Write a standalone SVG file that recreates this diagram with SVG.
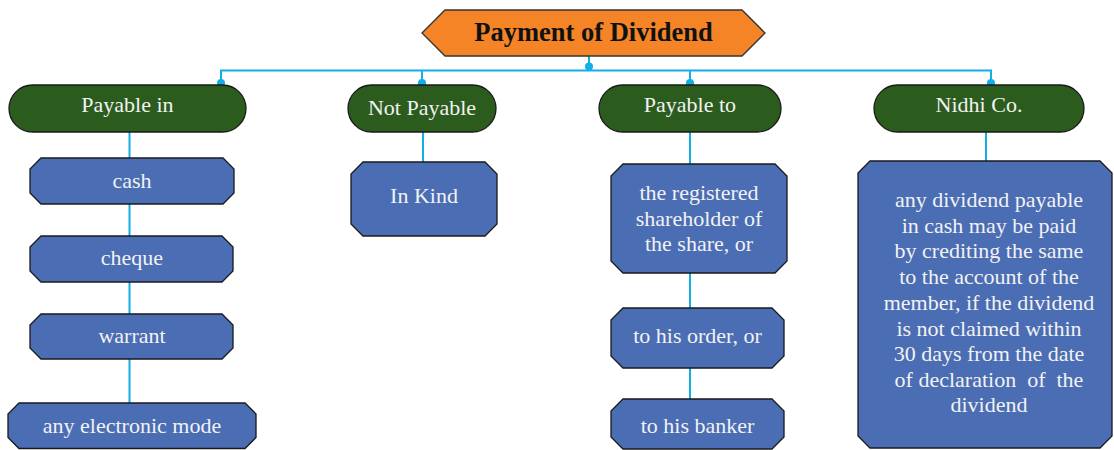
<svg xmlns="http://www.w3.org/2000/svg" width="1114" height="450" viewBox="0 0 1114 450">
<style>
.pill{fill:#2B5C1E;stroke:#1a1a1a;stroke-width:1.3}
.box{fill:#4A6DB4;stroke:#1a1a1a;stroke-width:1.3}
.t{font-family:"Liberation Serif","Times New Roman",serif;font-size:22px;fill:#F2F2F2;text-anchor:middle}
.c{stroke:#14AEE6;stroke-width:2;fill:none}
.dot{fill:#14AEE6}
</style>
<rect width="1114" height="450" fill="#FFFFFF"/>
<g id="connectors">
<path class="c" d="M589,56 V70.5 M221,83 V70.5 H991 V83 M422,70.5 V83 M690,70.5 V83"/>
<circle class="dot" cx="589" cy="66.5" r="4"/>
<circle class="dot" cx="221" cy="83" r="4"/>
<circle class="dot" cx="422" cy="83" r="4"/>
<circle class="dot" cx="690" cy="83" r="4"/>
<circle class="dot" cx="991" cy="83" r="4"/>
<path class="c" d="M129.5,132 V158 M129.5,204 V236 M129.5,282 V314 M129.5,359 V403"/>
<path class="c" d="M423,132 V162"/>
<path class="c" d="M690,132 V164 M690,273 V308 M690,368 V399"/>
<path class="c" d="M986,132 V161"/>
</g>
<g id="title">
<path d="M422,33 L445,10 L742,10 L765,33 L742,56 L445,56 Z" fill="#F58426" stroke="#333" stroke-width="1.3"/>
<text x="593.5" y="40.5" font-family="Liberation Serif, Times New Roman, serif" style="font-size:26.5px;font-weight:bold;fill:#111;text-anchor:middle">Payment of Dividend</text>
</g>
<g id="payable-in">
<rect class="pill" x="9" y="85" width="237" height="47" rx="23.5"/>
<text class="t" x="127.5" y="112">Payable in</text>
</g>
<g id="not-payable">
<rect class="pill" x="348" y="85" width="148" height="47" rx="23.5"/>
<text class="t" x="422" y="115">Not Payable</text>
</g>
<g id="payable-to">
<rect class="pill" x="599" y="85" width="182" height="47" rx="23.5"/>
<text class="t" x="690" y="112">Payable to</text>
</g>
<g id="nidhi-co">
<rect class="pill" x="874" y="85" width="210" height="47" rx="23.5"/>
<text class="t" x="979" y="112">Nidhi Co.</text>
</g>
<g id="cash">
<path class="box" d="M41,158 H223 L234,169 V193 L223,204 H41 L30,193 V169 Z"/>
<text class="t" x="132" y="188">cash</text>
</g>
<g id="cheque">
<path class="box" d="M41,236 H222 L233,247 V271 L222,282 H41 L30,271 V247 Z"/>
<text class="t" x="132" y="265">cheque</text>
</g>
<g id="warrant">
<path class="box" d="M41,314 H222 L233,325 V348 L222,359 H41 L30,348 V325 Z"/>
<text class="t" x="132" y="343">warrant</text>
</g>
<g id="electronic">
<path class="box" d="M19,403 H245 L256,414 V437.5 L245,448.5 H19 L8,437.5 V414 Z"/>
<text class="t" x="132" y="433">any electronic mode</text>
</g>
<g id="in-kind">
<path class="box" d="M363,162 H485 L497,174 V224 L485,236 H363 L351,224 V174 Z"/>
<text class="t" x="424" y="203">In Kind</text>
</g>
<g id="registered">
<path class="box" d="M623,164 H775 L787,176 V261 L775,273 H623 L611,261 V176 Z"/>
<text class="t" x="699" y="200">the registered</text>
<text class="t" x="699" y="225.7">shareholder of</text>
<text class="t" x="699" y="251.3">the share, or</text>
</g>
<g id="his-order">
<path class="box" d="M623,308 H772 L784,320 V356 L772,368 H623 L611,356 V320 Z"/>
<text class="t" x="697.5" y="343.3">to his order, or</text>
</g>
<g id="his-banker">
<path class="box" d="M623,399 H772 L784,411 V437 L772,449 H623 L611,437 V411 Z"/>
<text class="t" x="697.5" y="433.3">to his banker</text>
</g>
<g id="nidhi-text">
<path class="box" d="M870,161 H1100 L1112,173 V436 L1100,448 H870 L858,436 V173 Z"/>
<text class="t" x="989" y="207.3">any dividend payable</text>
<text class="t" x="989" y="232.8">in cash may be paid</text>
<text class="t" x="989" y="258.3">by crediting the same</text>
<text class="t" x="989" y="284">to the account of the</text>
<text class="t" x="989" y="310">member, if the dividend</text>
<text class="t" x="989" y="335.6">is not claimed within</text>
<text class="t" x="989" y="361.2">30 days from the date</text>
<text class="t" x="989" y="386.8" xml:space="preserve" style="white-space:pre">of declaration  of  the</text>
<text class="t" x="989" y="412.4">dividend</text>
</g>
</svg>
